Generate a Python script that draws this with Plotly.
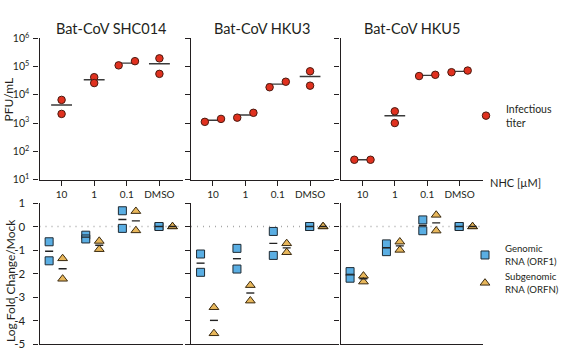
import numpy as np
import plotly.graph_objects as go

# ---------------- data ----------------
viruses = ["Bat-CoV SHC014", "Bat-CoV HKU3", "Bat-CoV HKU5"]
doses = ["10", "1", "0.1", "DMSO"]

# infectious titer (PFU/mL), two replicates per NHC dose
titer_shc014 = [[6600, 2100], [42000, 26000], [110000, 155000], [195000, 55000]]
titer_hku3 = [[1100, 1400], [1550, 2300], [18500, 29000], [68000, 21000]]
titer_hku5 = [[50, 50], [2600, 1000], [46000, 51000], [63000, 72000]]

# log fold change / mock, two replicates per dose
genomic_shc014 = [[-0.65, -1.46], [-0.37, -0.53], [0.67, -0.08], [0.0, 0.0]]
subgen_shc014 = [[-1.36, -2.23], [-0.62, -0.97], [0.65, -0.17], [0.0, 0.0]]
genomic_hku3 = [[-1.17, -1.95], [-0.93, -1.81], [-0.21, -1.23], [0.0, 0.0]]
subgen_hku3 = [[-3.44, -4.55], [-2.50, -3.16], [-0.72, -1.10], [0.0, 0.0]]
genomic_hku5 = [[-1.92, -2.20], [-0.74, -1.07], [0.28, -0.18], [0.0, 0.0]]
subgen_hku5 = [[-2.10, -2.35], [-0.65, -1.00], [0.49, -0.18], [0.0, 0.0]]

titer_ticks = [1, 2, 3, 4, 5, 6]
titer_ticktext = ["10<sup>1</sup>", "10<sup>2</sup>", "10<sup>3</sup>",
                  "10<sup>4</sup>", "10<sup>5</sup>", "10<sup>6</sup>"]
lfc_ticks = [-5, -4, -3, -2, -1, 0, 1]
lfc_ticktext = ["-5", "-4", "-3", "-2", "-1", "0", "1"]

titers = [titer_shc014, titer_hku3, titer_hku5]
genomics = [genomic_shc014, genomic_hku3, genomic_hku5]
subgens = [subgen_shc014, subgen_hku3, subgen_hku5]

# ---------------- styling / geometry ----------------
W, H = 562, 351
INK = "#231f20"
RED = "#e0311f"
BLUE = "#5aaee3"
GOLD = "#e8b75b"
FONT = "Lato"

def px_x(p):
    return p / W

def px_y(p):
    return (H - p) / H

col_px = [(39.5, 183.0), (191.0, 333.5), (340.5, 483.0)]
top_px = (38.3, 179.5)
bot_px = (203.0, 344.0)
top_range = [-0.677, 3.723]
bot_range = [-0.447, 3.471]
top_dodge = 0.25       # category units
top_half = 0.32
bot_off = 0.184
bot_half = 0.11

fig = go.Figure()
layout = dict(
    width=W, height=H, margin=dict(l=0, r=0, t=0, b=0, autoexpand=False),
    paper_bgcolor="white", plot_bgcolor="rgba(0,0,0,0)",
    font=dict(family=FONT, color=INK, size=11),
    showlegend=True,
)

annotations = []
shapes = []

for i in range(3):
    xt, yt = (f"x{i+1}", f"y{i+1}")
    xb, yb = (f"x{i+4}", f"y{i+4}")
    dom = [px_x(col_px[i][0]), px_x(col_px[i][1])]
    sfx_t = "" if i == 0 else str(i + 1)

    # --- top panel axes ---
    layout["xaxis" + sfx_t] = dict(
        domain=dom, anchor=yt, range=top_range, showline=True, linecolor=INK,
        linewidth=1.2, ticks="outside", ticklen=5, tickwidth=1.2, tickcolor=INK,
        tickvals=list(range(len(doses))), ticktext=doses, tickfont=dict(size=10),
        showgrid=False, zeroline=False, fixedrange=True, ticklabelstandoff=0,
        automargin=False,
    )
    layout["yaxis" + sfx_t] = dict(
        domain=[px_y(top_px[1]), px_y(top_px[0])], anchor=xt, type="log",
        range=[1, 6], showline=True, linecolor=INK, linewidth=1.2,
        ticks="outside", ticklen=5, tickwidth=1.2, tickcolor=INK,
        tickvals=[10 ** t for t in titer_ticks], ticktext=titer_ticktext,
        showticklabels=(i == 0), tickfont=dict(size=10.5),
        showgrid=False, zeroline=False, fixedrange=True, ticklabelstandoff=2,
        automargin=False,
    )
    # --- bottom panel axes ---
    layout[f"xaxis{i+4}"] = dict(
        domain=dom, anchor=yb, range=bot_range, showline=True, linecolor=INK,
        linewidth=1.2, ticks="", showticklabels=False, showgrid=False,
        zeroline=False, fixedrange=True, automargin=False,
    )
    layout[f"xaxis{i+7}"] = dict(
        domain=dom, anchor=yb, overlaying=xb, side="top", range=top_range,
        showline=True, linecolor=INK, linewidth=1.2, ticks="outside",
        ticklen=5, tickwidth=1.2, tickcolor=INK,
        tickvals=list(range(len(doses))), showticklabels=False,
        showgrid=False, zeroline=False, fixedrange=True, automargin=False,
    )
    layout[f"yaxis{i+4}"] = dict(
        domain=[px_y(bot_px[1]), px_y(bot_px[0])], anchor=xb, range=[-5, 1],
        showline=True, linecolor=INK, linewidth=1.2, ticks="outside",
        ticklen=5, tickwidth=1.2, tickcolor=INK, tickvals=lfc_ticks,
        ticktext=lfc_ticktext, showticklabels=(i == 0),
        tickfont=dict(size=11.5), showgrid=False, zeroline=False,
        fixedrange=True, ticklabelstandoff=6, automargin=False,
    )

    # --- top panel: infectious titer ---
    tx, ty, mx, my = [], [], [], []
    for k, reps in enumerate(titers[i]):
        logs = np.log10(reps)
        dodge = abs(logs[0] - logs[1]) < 0.2
        for r, v in enumerate(reps):
            off = (-top_dodge if r == 0 else top_dodge) if dodge else 0.0
            tx.append(k + off)
            ty.append(v)
        m = float(np.mean(reps))
        mx += [k - top_half, k + top_half, None]
        my += [m, m, None]
    fig.add_trace(go.Scatter(x=mx, y=my, xaxis=xt, yaxis=yt, mode="lines",
                             line=dict(color="#3a3a3a", width=1.4),
                             showlegend=False, hoverinfo="skip"))
    fig.add_trace(go.Scatter(
        x=tx, y=ty, xaxis=xt, yaxis=yt, mode="markers",
        marker=dict(symbol="circle", size=7.5, color=RED,
                    line=dict(color="#4a1a10", width=1)),
        name="Infectious<br>titer", legend="legend", showlegend=(i == 0)))

    # --- bottom panel: RNA log fold change ---
    for series, off, sym, col, nm in [
        (genomics[i], -bot_off, "square", BLUE, "Genomic<br>RNA (ORF1)"),
        (subgens[i], bot_off, "triangle-up", GOLD, "Subgenomic<br>RNA (ORFN)"),
    ]:
        px_, py_, lx, ly = [], [], [], []
        for k, reps in enumerate(series):
            for v in reps:
                px_.append(k + off)
                py_.append(v)
            m = float(np.mean(reps))
            lx += [k + off - bot_half, k + off + bot_half, None]
            ly += [m, m, None]
        fig.add_trace(go.Scatter(
            x=px_, y=py_, xaxis=xb, yaxis=yb, mode="markers",
            marker=dict(symbol=sym, size=8 if sym == "square" else 8.5,
                        color=col,
                        line=dict(color="#1e2a33" if sym == "square" else "#3a2a10",
                                  width=1)),
            name=nm, legend="legend2", showlegend=(i == 0)))
        fig.add_trace(go.Scatter(x=lx, y=ly, xaxis=xb, yaxis=yb, mode="lines",
                                 line=dict(color="#222222", width=1.4),
                                 showlegend=False, hoverinfo="skip"))

    # dotted zero reference
    shapes.append(dict(type="line", xref=f"{xb} domain", x0=0, x1=1,
                       yref=yb, y0=0, y1=0,
                       line=dict(color="#a8a8a8", width=1.3, dash="1px,5px"),
                       layer="below"))

    annotations.append(dict(text=viruses[i], xref="paper", yref="paper",
                            x=(dom[0] + dom[1]) / 2, y=px_y(28),
                            showarrow=False, font=dict(size=14.5),
                            xanchor="center", yanchor="middle"))

annotations += [
    dict(text="PFU/mL", xref="paper", yref="paper", x=px_x(8.5), y=px_y(100),
         textangle=-90, showarrow=False, font=dict(size=12),
         xanchor="center", yanchor="middle"),
    dict(text="Log Fold Change/Mock", xref="paper", yref="paper", x=px_x(10),
         y=px_y(281), textangle=-90, showarrow=False, font=dict(size=12),
         xanchor="center", yanchor="middle"),
    dict(text="NHC [µM]", xref="paper", yref="paper", x=px_x(488),
         y=px_y(183), showarrow=False, font=dict(size=11),
         xanchor="left", yanchor="middle"),
]

layout["annotations"] = annotations
layout["shapes"] = shapes
layout["legend"] = dict(x=px_x(466), y=px_y(116), xanchor="left",
                        yanchor="middle", bgcolor="rgba(0,0,0,0)",
                        borderwidth=0, font=dict(size=10.5), itemwidth=30)
layout["legend2"] = dict(x=px_x(465), y=px_y(269), xanchor="left",
                         yanchor="middle", bgcolor="rgba(0,0,0,0)",
                         borderwidth=0, font=dict(size=9.6), itemwidth=30,
                         tracegroupgap=0)

fig.update_layout(**layout)
fig.write_html("out.html")
